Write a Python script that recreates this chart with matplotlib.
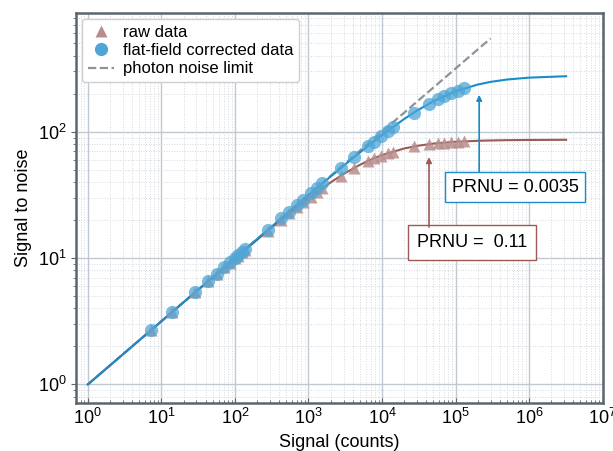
import matplotlib
matplotlib.use("Agg")
import matplotlib.pyplot as plt
from matplotlib.lines import Line2D

plt.rcParams['font.family'] = ['Liberation Sans', 'DejaVu Sans']

signal = [7.2, 14, 29, 43, 57, 72, 86, 100, 111, 126, 139, 280, 430, 550, 700, 850,
          1070, 1320, 1550, 2750, 4150, 6400, 7700, 9600, 12000, 14000, 27000, 43500,
          58000, 70000, 87000, 107000, 131000]
snr_raw = [2.68, 3.74, 5.37, 6.54, 7.52, 8.44, 9.22, 9.93, 10.46, 11.13, 11.68, 16.43,
           20.16, 22.63, 25.30, 27.63, 30.59, 33.49, 35.83, 44.83, 51.64, 58.7, 61.6,
           64.8, 67.85, 69.76, 76.5, 79.8, 81.3, 82.1, 82.9, 83.5, 84.0]
snr_flat = [2.68, 3.74, 5.38, 6.56, 7.55, 8.48, 9.27, 9.99, 10.53, 11.22, 11.78, 16.70,
            20.68, 23.37, 26.34, 29.0, 32.49, 36.03, 38.98, 51.54, 62.76, 76.89, 83.69,
            92.42, 101.9, 108.9, 141.6, 166.9, 182.2, 191.8, 202.4, 212.0, 220.7]

# fitted curves
fit_signal = [1, 10, 100, 300, 500, 1000, 2000, 3000, 5000, 7000, 1e4, 2e4, 3e4, 5e4,
              1e5, 2e5, 3e5, 5e5, 1e6, 3.2e6]
fit_raw = [1.0, 3.16, 9.93, 16.98, 21.65, 29.7, 39.7, 46.3, 54.7, 60.1, 65.4, 73.7,
           77.3, 80.6, 83.3, 84.8, 85.3, 85.8, 86.1, 86.4]
fit_flat = [1.0, 3.16, 9.99, 17.29, 22.29, 31.42, 44.16, 53.7, 68.5, 80.1, 94.1, 126.1,
            147.1, 174.3, 209.0, 236.4, 248.2, 259.1, 268.2, 275.2]

# photon noise limit (straight line in log-log)
limit_signal = [1, 3e5]
limit_snr = [1, 548]

c_raw_line = '#9c5a55'
c_raw_pt = '#b88e8c'
c_flat_line = '#1a8cc9'
c_flat_pt = '#4fa6d6'
c_dash = '#8f9296'

fig = plt.figure(figsize=(6.13, 4.51), dpi=100)
ax = fig.add_axes([0.124, 0.106, 0.860, 0.865])

ax.set_xscale('log')
ax.set_yscale('log')
ax.set_xlim(0.69, 1.02e7)
ax.set_ylim(0.71, 870)

ax.grid(True, which='major', color='#c0c8d2', lw=1.0)
ax.grid(True, which='minor', color='#d3d8de', lw=0.7, ls=':')
ax.set_axisbelow(True)

ax.plot(limit_signal, limit_snr, ls='--', color=c_dash, lw=1.6, zorder=2)
ax.plot(fit_signal, fit_raw, color=c_raw_line, lw=1.5, zorder=3)
ax.plot(fit_signal, fit_flat, color=c_flat_line, lw=1.5, zorder=3)
ax.plot(signal, snr_raw, ls='none', marker='^', ms=8.5, color=c_raw_pt, alpha=0.85,
        mec='none', zorder=4)
ax.plot(signal, snr_flat, ls='none', marker='o', ms=9.5, color=c_flat_pt, alpha=0.75,
        mec='none', zorder=5)

for s in ax.spines.values():
    s.set_color('#5c6570')
    s.set_linewidth(1.8)

ax.tick_params(axis='both', which='major', labelsize=13, color='#5c6570')
ax.tick_params(axis='x', which='both', direction='in')
ax.tick_params(axis='y', which='both', direction='out')
ax.tick_params(which='minor', length=2.5, color='#5c6570')

ax.set_xlabel('Signal (counts)', fontsize=13, labelpad=4)
ax.set_ylabel('Signal to noise', fontsize=13, labelpad=4)

handles = [
    Line2D([], [], ls='none', marker='^', ms=8.5, color=c_raw_pt, mec='none'),
    Line2D([], [], ls='none', marker='o', ms=9.5, color=c_flat_pt, mec='none'),
    Line2D([], [], ls='--', color=c_dash, lw=1.6),
]
ax.legend(handles, ['raw data', 'flat-field corrected data', 'photon noise limit'],
          loc='upper left', fontsize=12, frameon=True, framealpha=1,
          edgecolor='#d0d0d0', handlelength=1.6, handletextpad=0.5,
          borderaxespad=0.35, labelspacing=0.2, borderpad=0.35)

# PRNU boxes and arrows
ax.text(0.833, 0.554, 'PRNU = 0.0035', transform=ax.transAxes, fontsize=13,
        ha='center', va='center', zorder=6,
        bbox=dict(boxstyle='square,pad=0.35', fc='white', ec=c_flat_line, lw=1.0))
ax.annotate('', xy=(2.1e5, 196), xytext=(2.1e5, 48.2),
            arrowprops=dict(arrowstyle='-|>', color=c_flat_line, lw=1.2,
                            mutation_scale=8, shrinkA=0, shrinkB=0), zorder=6)

ax.text(0.751, 0.413, 'PRNU =  0.11', transform=ax.transAxes, fontsize=13,
        ha='center', va='center', zorder=6,
        bbox=dict(boxstyle='square,pad=0.5', fc='white', ec=c_raw_line, lw=1.0))
ax.annotate('', xy=(4.36e4, 63), xytext=(4.36e4, 17.6),
            arrowprops=dict(arrowstyle='-|>', color=c_raw_line, lw=1.2,
                            mutation_scale=8, shrinkA=0, shrinkB=0), zorder=6)

fig.savefig('out.png', dpi=100)
